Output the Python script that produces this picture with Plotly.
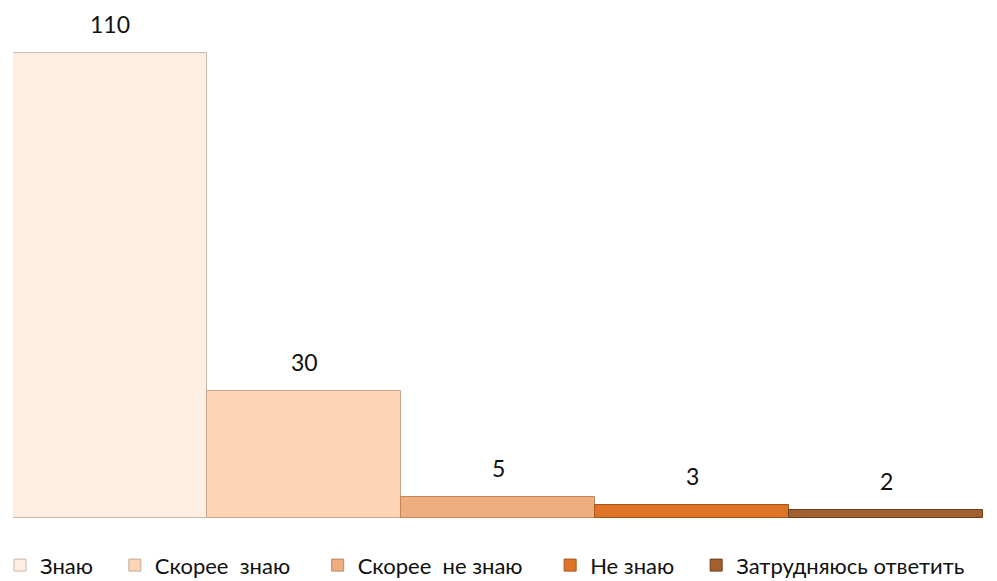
import plotly.graph_objects as go

# Survey answers and counts
answers = ["Знаю", "Скорее  знаю", "Скорее  не знаю", "Не знаю", "Затрудняюсь ответить"]
counts = [110, 30, 5, 3, 2]
colors = ["#FDEEE1", "#FCD5B6", "#EEAE80", "#DE7428", "#A2602F"]
edges = ["#C9B8AA", "#C9A88E", "#C08660", "#A9541A", "#6E3E1C"]

# trailing non-breaking spaces to spread legend entries like the original
pads = [3, 4, 4, 3, 0]

fig = go.Figure()

for name, val, col, edge, pad in zip(answers, counts, colors, edges, pads):
    fig.add_trace(go.Bar(
        x=[name],
        y=[val],
        name=name.replace(" ", "\u00a0") + "\u00a0" * pad,
        marker=dict(color=col, line=dict(color=edge, width=1)),
        hoverinfo="skip",
    ))
    fig.add_annotation(
        x=name, y=val, text=str(val),
        showarrow=False, yanchor="bottom", yshift=13,
        font=dict(size=23, color="#111111"),
    )

fig.update_layout(
    width=997,
    height=581,
    paper_bgcolor="white",
    plot_bgcolor="white",
    font=dict(family="Lato, Open Sans, sans-serif", size=22, color="#111111"),
    margin=dict(l=13, r=14, t=10, b=63),
    barmode="overlay",
    bargap=0,
    showlegend=True,
    legend=dict(
        orientation="h",
        xref="container", yref="container",
        x=0, xanchor="left",
        y=0.027, yanchor="middle",
        itemwidth=30,
        traceorder="normal",
        font=dict(size=22),
        itemclick=False,
    ),
    xaxis=dict(
        showgrid=False,
        zeroline=False,
        showticklabels=False,
        showline=False,
    ),
    yaxis=dict(
        showgrid=False,
        zeroline=False,
        showticklabels=False,
        range=[0, 120.2],
    ),
)

fig.write_html(
    "out.html",
    config={"displayModeBar": False},
    post_script="document.body.style.margin='0';",
)
